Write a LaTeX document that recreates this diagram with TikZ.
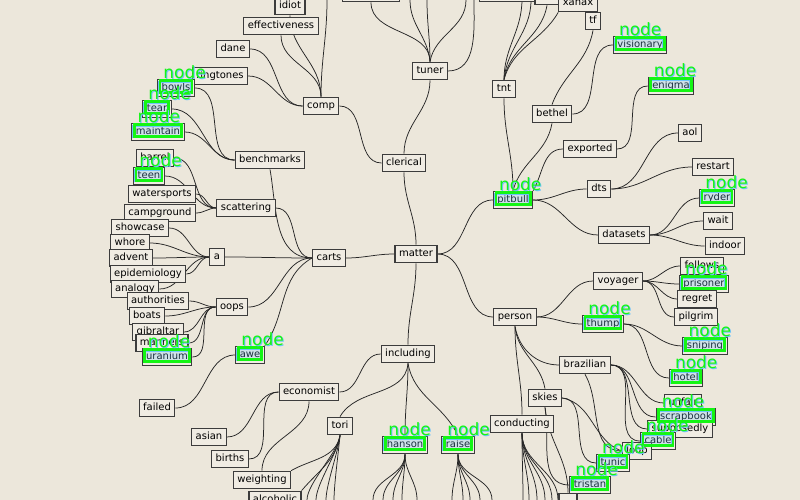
\documentclass[tikz,border=0pt]{standalone}
\usepackage{fontspec}
\setmainfont{DejaVu Sans}
\usetikzlibrary{calc}
\definecolor{paper}{RGB}{236,231,219}
\definecolor{boxfill}{RGB}{240,236,227}
\definecolor{boxline}{RGB}{60,60,60}
\definecolor{markgreen}{RGB}{20,245,20}
\definecolor{markblue}{RGB}{110,195,250}
\pgfdeclarelayer{paperlayer}
\pgfdeclarelayer{edgelayer}
\pgfsetlayers{paperlayer,edgelayer,main}

% highlight frame with its "node" tag, laid over a box
\newcommand\greenmark[1]{%
  \fill[markblue, fill opacity=0.25] ($(#1.north west)+(3,-3)$) rectangle ($(#1.south east)+(-3,5)$);
  \draw[markblue, line width=1.8bp] ($(#1.north west)+(2,-3.5)$) rectangle ($(#1.south east)+(-4,4)$);
  \draw[markgreen, line width=2.6bp] ($(#1.north west)+(3,-2)$) rectangle ($(#1.south east)+(-3,5)$);
  \node[marklabel, text=markblue] at ($(#1.north west)+(7,-1.2)$) {node};
  \node[marklabel, text=markgreen] at ($(#1.north west)+(6,0)$) {node};
}

\begin{document}
\begin{tikzpicture}[x=1bp,y=1bp,
  box/.style={draw=boxline, fill=boxfill, line width=1.1bp, inner xsep=4bp, inner ysep=3.8bp,
              text height=7.6bp, text depth=2.4bp, font=\fontsize{10bp}{12bp}\selectfont},
  link/.style={draw=black!85, line width=0.75bp},
  marklabel/.style={anchor=base west, inner sep=0pt, font=\fontsize{17bp}{20bp}\selectfont}]

\useasboundingbox (0,0) rectangle (800,-500);
\begin{pgfonlayer}{paperlayer}
  \fill[paper] (0,0) rectangle (800,-500);
\end{pgfonlayer}

% ---------- boxes ----------
\node[box, minimum width=57bp] (topA) at (371,7) {};
\node[box, minimum width=57bp] (topB) at (508,7) {};
\node[box, minimum width=24bp] (topC) at (547,4) {};
\node[box] (xanax) at (578,-3) {xanax};
\node[box] (tf) at (593,-21) {tf};

\node[box] (matter) at (416,-254) {matter};
\node[box] (clerical) at (404,-163) {clerical};
\node[box] (tuner) at (430,-71) {tuner};
\node[box] (carts) at (329,-258) {carts};
\node[box] (person) at (515,-317) {person};
\node[box] (including) at (408,-354) {including};
\node[box] (comp) at (321,-106) {comp};
\node[box] (tnt) at (504,-89) {tnt};
\node[box] (pitbull) at (513,-200) {pitbull};
\node[box] (bethel) at (552,-114) {bethel};
\node[box] (exported) at (590,-149) {exported};
\node[box] (dts) at (599,-189) {dts};
\node[box] (datasets) at (624,-235) {datasets};
\node[box] (aol) at (690,-133) {aol};
\node[box] (restart) at (713,-167) {restart};
\node[box] (ryder) at (717,-198) {ryder};
\node[box] (wait) at (718,-221) {wait};
\node[box] (indoor) at (725,-246) {indoor};
\node[box] (visionary) at (640,-45) {visionary};
\node[box] (enigma) at (671,-86) {enigma};

\node[box] (idiot) at (290,-6) {idiot};
\node[box] (effectiveness) at (281,-26) {effectiveness};
\node[box] (dane) at (233,-49) {dane};
\node[box] (ringtones) at (220,-76) {ringtones};
\node[box] (bowls) at (176,-88) {bowls};
\node[box] (tear) at (157,-109) {tear};
\node[box] (maintain) at (158,-132) {maintain};
\node[box] (benchmarks) at (270,-160) {benchmarks};
\node[box] (barrel) at (155,-158) {barrel};
\node[box] (teen) at (149,-176) {teen};
\node[box] (watersports) at (162,-194) {watersports};
\node[box] (campground) at (160,-213) {campground};
\node[box] (scattering) at (246,-208) {scattering};
\node[box] (showcase) at (140,-228) {showcase};
\node[box] (whore) at (130,-243) {whore};
\node[box] (advent) at (131,-258) {advent};
\node[box] (epidemiology) at (148,-274) {epidemiology};
\node[box] (analogy) at (135,-289) {analogy};
\node[box] (a) at (217,-257) {a};
\node[box] (authorities) at (158,-301) {authorities};
\node[box] (boats) at (147,-316) {boats};
\node[box] (oops) at (232,-307) {oops};
\node[box] (gibraltar) at (158,-332) {gibraltar};
\node[box] (manners) at (162,-343) {manners};
\node[box] (uranium) at (167,-357) {uranium};
\node[box] (awe) at (250,-355) {awe};
\node[box] (failed) at (157,-408) {failed};
\node[box] (economist) at (309,-392) {economist};
\node[box] (asian) at (209,-437) {asian};
\node[box] (births) at (230,-459) {births};
\node[box] (weighting) at (262,-480) {weighting};
\node[box] (alcoholic) at (275,-500) {alcoholic};
\node[box] (tori) at (340,-426) {tori};
\node[box] (hanson) at (405,-445) {hanson};
\node[box] (raise) at (458,-445) {raise};
\node[box] (conducting) at (522,-424) {conducting};
\node[box] (skies) at (545,-398) {skies};
\node[box] (brazilian) at (585,-365) {brazilian};
\node[box] (thump) at (603,-324) {thump};
\node[box] (voyager) at (618,-281) {voyager};
\node[box] (follows) at (702,-266) {follows};
\node[box] (prisoner) at (704,-284) {prisoner};
\node[box] (regret) at (697,-299) {regret};
\node[box] (pilgrim) at (696,-317) {pilgrim};
\node[box] (sniping) at (705,-346) {sniping};
\node[box] (hotel) at (686,-378) {hotel};
\node[box] (unfair) at (683,-403) {unfair};
\node[box] (scrapbook) at (686,-417) {scrapbook};
\node[box] (supposedly) at (680,-429) {supposedly};
\node[box] (cable) at (658,-441) {cable};
\node[box] (loop) at (637,-451) {loop};
\node[box] (tunic) at (613,-463) {tunic};
\node[box] (tristan) at (590,-485) {tristan};
\node[box, minimum width=18bp] (lowbox) at (568,-502) {};

% free ends running off the sheet
\coordinate (ctop) at (327,0);
\coordinate (tu1) at (410,0);
\coordinate (tu2) at (427,0);
\coordinate (tu3) at (466,0);
\coordinate (tu4) at (474,0);
\coordinate (tn1) at (522,1);
\coordinate (tn2) at (531,0);
\foreach \n/\x in {to1/307,to2/316,to3/326,to4/334,
                   ha1/373,ha2/383,ha3/393,ha4/402,ha5/417,
                   ra1/452,ra2/463,ra3/470,ra4/480,ra5/492,
                   co1/523,co2/529,co3/537,co4/545,co5/552,co6/558}
  \coordinate (\n) at (\x,-500);

% ---------- connectors ----------
\begin{pgfonlayer}{edgelayer}
\draw[link] (carts.east) to[out=0,in=180] (matter.west);
\draw[link] (matter.north) to[out=90,in=-90] (clerical.south);
\draw[link] (matter.east) to[out=0,in=180] (pitbull.west);
\draw[link] (matter.east) to[out=0,in=180] (person.west);
\draw[link] (matter.south) to[out=-90,in=90] (including.north);
\draw[link] (clerical.north) to[out=90,in=-90] (tuner.south);
\draw[link] (comp.east) to[out=0,in=180] (clerical.west);

\draw[link] (comp.north) to[out=90,in=-90] (idiot.south);
\draw[link] (comp.north) to[out=90,in=-90] (effectiveness.south);
\draw[link] (comp.north) to[out=90,in=-90] (ctop);
\draw[link] (dane.east) to[out=0,in=180] (comp.west);
\draw[link] (ringtones.east) to[out=0,in=180] (comp.west);

\draw[link] (tuner.north) to[out=90,in=-90] (topA.south);
\draw[link] (tuner.north) to[out=95,in=-90] (tu1);
\draw[link] (tuner.north) to[out=90,in=-90] (tu2);
\draw[link] (tuner.north) to[out=80,in=-90] (tu3);
\draw[link] (tuner.east) to[out=0,in=-90] (tu4);

\foreach \c in {bowls,tear,maintain}
  \draw[link] (\c.east) to[out=0,in=180] (benchmarks.west);
\draw[link] (benchmarks.south) to[out=-80,in=180] (carts.west);
\foreach \c in {barrel,teen,watersports,campground}
  \draw[link] (\c.east) to[out=0,in=180] (scattering.west);
\draw[link] (scattering.east) to[out=0,in=180] (carts.west);
\foreach \c in {showcase,whore,advent,epidemiology,analogy}
  \draw[link] (\c.east) to[out=0,in=180] (a.west);
\draw[link] (a.east) to[out=0,in=180] (carts.west);
\foreach \c in {authorities,boats,gibraltar,manners,uranium}
  \draw[link] (\c.east) to[out=0,in=180] (oops.west);
\draw[link] (oops.east) to[out=0,in=180] (carts.west);
\draw[link] (awe.north east) to[out=55,in=210] (carts.west);
\draw[link] (failed.east) to[out=0,in=180] (awe.west);

\draw[link] (including.west) to[out=180,in=0] (economist.east);
\draw[link] (including.south) to[out=-95,in=60] (tori.north);
\draw[link] (including.south) to[out=-90,in=90] (hanson.north);
\draw[link] (including.south) to[out=-80,in=115] (raise.north);
\draw[link] (asian.east) to[out=0,in=180] (economist.west);
\draw[link] (births.east) to[out=0,in=180] (economist.west);
\draw[link] (weighting.north) to[out=90,in=-90] (economist.south);

\draw[link] (tori.south) to[out=-100,in=30] (weighting.north east);
\draw[link] (tori.south) to[out=-100,in=50] (alcoholic.north east);
\foreach \c in {to1,to2,to3,to4}
  \draw[link] (tori.south) to[out=-95,in=90,looseness=0.6] (\c);
\foreach \c in {ha1,ha2,ha3,ha4,ha5}
  \draw[link] (hanson.south) to[out=-90,in=90] (\c);
\foreach \c in {ra1,ra2,ra3,ra4,ra5}
  \draw[link] (raise.south) to[out=-90,in=90] (\c);
\foreach \c in {co1,co2,co3,co4,co5,co6}
  \draw[link] (conducting.south) to[out=-90,in=90] (\c);

\draw[link] (person.east) to[out=0,in=180] (voyager.west);
\draw[link] (person.east) to[out=0,in=180] (thump.west);
\draw[link] (person.south) to[out=-90,in=90] (conducting.north);
\draw[link] (person.south) to[out=-80,in=180] (brazilian.west);
\draw[link] (person.south) to[out=-85,in=100] (skies.north);
\foreach \c in {follows,prisoner,regret,pilgrim}
  \draw[link] (voyager.east) to[out=0,in=180] (\c.west);
\foreach \c in {sniping,hotel}
  \draw[link] (thump.east) to[out=0,in=180] (\c.west);
\foreach \c in {unfair,scrapbook,supposedly,cable}
  \draw[link] (brazilian.east) to[out=0,in=180] (\c.west);
\draw[link] (brazilian.south) to[out=-60,in=180] (loop.west);
\draw[link] (skies.east) to[out=0,in=180] (tunic.west);
\draw[link] (skies.east) to[out=-10,in=160] (loop.west);
\draw[link] (skies.south) to[out=-80,in=180] (tristan.west);
\draw[link] (skies.south) to[out=-85,in=90] (lowbox.north);

\draw[link] (tnt.south) to[out=-90,in=90] (pitbull.north);
\draw[link] (bethel.south) to[out=-100,in=75] (pitbull.north);
\draw[link] (exported.west) to[out=180,in=60] (pitbull.north east);
\draw[link] (dts.west) to[out=180,in=0] (pitbull.east);
\draw[link] (datasets.west) to[out=180,in=0] (pitbull.east);
\draw[link] (bethel.east) to[out=0,in=180] (visionary.west);
\draw[link] (tf.south) to[out=-100,in=70] (bethel.north);
\draw[link] (exported.east) to[out=0,in=180] (enigma.west);
\foreach \c in {aol,restart}
  \draw[link] (dts.east) to[out=0,in=180] (\c.west);
\foreach \c in {ryder,wait,indoor}
  \draw[link] (datasets.east) to[out=0,in=180] (\c.west);
\draw[link] (tnt.north) to[out=90,in=-90] (tn1);
\draw[link] (tnt.north) to[out=85,in=-90] (tn2);
\draw[link] (tnt.north) to[out=80,in=-100] (topC.south);
\draw[link] (tnt.north) to[out=75,in=-120] (xanax.south west);
\end{pgfonlayer}

% ---------- highlight frames ----------
\foreach \m in {bowls,tear,maintain,teen,uranium,awe,hanson,raise,pitbull,
                visionary,enigma,ryder,prisoner,thump,sniping,hotel,
                scrapbook,cable,tunic,tristan}
  {\greenmark{\m}}
\end{tikzpicture}
\end{document}
